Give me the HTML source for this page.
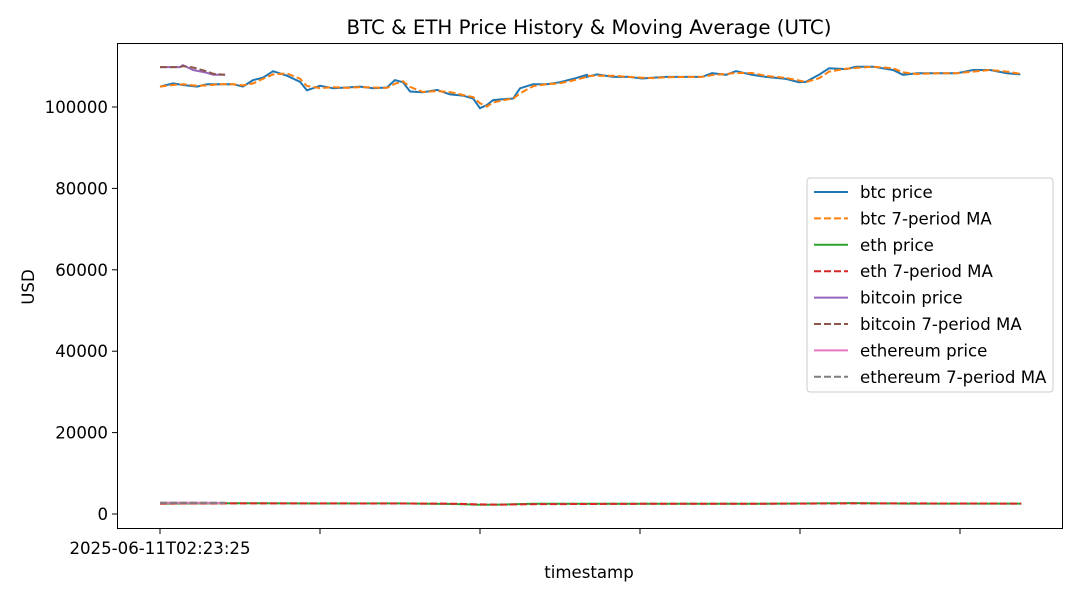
<!DOCTYPE html>
<html><head><meta charset="utf-8"><style>
body{margin:0;background:#fff;}
svg text{font-family:"DejaVu Sans","Liberation Sans",sans-serif;fill:#000;}
</style></head><body>
<svg id="chart" width="1080" height="600" xmlns="http://www.w3.org/2000/svg">
<rect width="1080" height="600" fill="#fff"/>
<text x="589" y="34" font-size="19.8" text-anchor="middle">BTC &amp; ETH Price History &amp; Moving Average (UTC)</text>
<g id="plot"></g>
<rect x="117.5" y="43.5" width="945" height="485" fill="none" stroke="#000" stroke-width="1"/>
<g id="axes"></g>
<text x="589" y="578" font-size="16.6" text-anchor="middle">timestamp</text>
<text x="34" y="287" font-size="16.6" text-anchor="middle" transform="rotate(-90 34 287)">USD</text>
<g id="legend"></g>
</svg>
<script>
// time in hours from start
const btcT=[0,0.49,0.86,1.39,1.76,2.25,2.74,3.11,3.49,3.86,4.24,4.76,5.25,5.51,6,6.49,7.01,7.5,7.99,8.51,8.81,9.11,9.38,9.86,10.39,10.88,11.36,11.74,12,12.26,12.49,13.01,13.24,13.5,13.99,14.51,15,15.49,16.01,
16.01,16.39,16.99,17.59,18.08,18.45,18.98,19.73,20.33,20.7,21.23,21.6,22.2,22.73,23.48,23.96,24.23,24.71,25.09,25.73,26.1,26.74,27.49,27.86,28.39,29.14,29.89,30.49,31.13,31.76,32.26,32.89];
const btcV=[105.0,105.8,105.4,105.0,105.6,105.6,105.6,105.0,106.6,107.2,108.8,107.7,106.2,104.1,105.2,104.6,104.8,105.0,104.6,104.8,106.6,106.1,103.8,103.6,104.2,103.1,102.8,102.1,99.7,100.5,101.7,102.0,102.1,104.6,105.6,105.6,106.1,106.9,107.9,
107.4,108.0,107.4,107.4,107.0,107.2,107.4,107.4,107.4,108.3,107.9,108.8,107.9,107.4,106.9,106.1,106.2,107.9,109.5,109.3,109.9,109.9,109.1,107.9,108.3,108.3,108.3,109.1,109.1,108.3,108.0].map(v=>v*1000);
const ethT=[0,3,6,9,11,12,12.7,14,18,22,26,28,32.3];
const ethV=[2560,2650,2580,2600,2450,2250,2300,2500,2520,2510,2680,2550,2560];
const bitcoinT=[0,0.75,0.86,1.24,1.76,1.99,2.44];
const bitcoinV=[109800,109800,110300,109100,108400,107900,107900];
const ethereumT=[0,0.8,1.6,2.44];
const ethereumV=[2750,2800,2760,2720];
const yTicks=[0,20000,40000,60000,80000,100000];
const xTicks=[0,6,12,18,24,30];
const xTickLabels=["2025-06-11T02:23:25","","","","",""];

const X=t=>160+t*(160/6);
const Y=v=>514-v*407/100000;
const NS="http://www.w3.org/2000/svg";
function ma(arr,w){return arr.map((_,i)=>{const s=arr.slice(Math.max(0,i-w+1),i+1);return s.reduce((a,b)=>a+b,0)/s.length;});}
function line(g,T,V,color,dash,name){
  const p=document.createElementNS(NS,"path");
  
  
  p.setAttribute("d",T.map((t,i)=>(i?"L":"M")+X(t).toFixed(1)+" "+Y(V[i]).toFixed(1)).join(""));
  p.setAttribute("fill","none");p.setAttribute("stroke",color);p.setAttribute("stroke-width","2");
  if(dash)p.setAttribute("stroke-dasharray","7,3");
  g.appendChild(p);
}
const plot=document.getElementById("plot");
line(plot,btcT,btcV,"#1f77b4",false,"btc-price-line");
line(plot,btcT,ma(btcV,2),"#ff7f0e",true,"btc-ma-line");
line(plot,ethT,ethV,"#2ca02c",false,"eth-price-line");
line(plot,ethT,ma(ethV,2),"#d62728",true,"eth-ma-line");
line(plot,bitcoinT,bitcoinV,"#9467bd",false,"bitcoin-price-line");
line(plot,bitcoinT,ma(bitcoinV,2),"#8c564b",true,"bitcoin-ma-line");
line(plot,ethereumT,ethereumV,"#e377c2",false,"ethereum-price-line");
line(plot,ethereumT,ma(ethereumV,2),"#7f7f7f",true,"ethereum-ma-line");

const axes=document.getElementById("axes");
yTicks.forEach(v=>{
  const l=document.createElementNS(NS,"line");
  
  
  l.setAttribute("x1",112);l.setAttribute("x2",117);l.setAttribute("y1",Y(v));l.setAttribute("y2",Y(v));l.setAttribute("stroke","#000");
  axes.appendChild(l);
  const t=document.createElementNS(NS,"text");
  
  
  t.setAttribute("x",108);t.setAttribute("y",Y(v)+6);t.setAttribute("font-size","16.6");t.setAttribute("text-anchor","end");
  t.textContent=v;axes.appendChild(t);
});
xTicks.forEach((v,i)=>{
  const l=document.createElementNS(NS,"line");
  
  
  l.setAttribute("x1",X(v));l.setAttribute("x2",X(v));l.setAttribute("y1",529);l.setAttribute("y2",534);l.setAttribute("stroke","#000");
  axes.appendChild(l);
  if(xTickLabels[i]){
    const t=document.createElementNS(NS,"text");
    
    
    t.setAttribute("x",X(v));t.setAttribute("y",554);t.setAttribute("font-size","16.6");t.setAttribute("text-anchor","middle");
    t.textContent=xTickLabels[i];axes.appendChild(t);
  }
});
const leg=document.getElementById("legend");
const box=document.createElementNS(NS,"rect");


box.setAttribute("x",807);box.setAttribute("y",178);box.setAttribute("width",246);box.setAttribute("height",214);box.setAttribute("rx",3);
box.setAttribute("fill","#fff");box.setAttribute("fill-opacity","0.8");box.setAttribute("stroke","#ccc");
leg.appendChild(box);
const labels=["btc price","btc 7-period MA","eth price","eth 7-period MA","bitcoin price","bitcoin 7-period MA","ethereum price","ethereum 7-period MA"];
const colors=["#1f77b4","#ff7f0e","#2ca02c","#d62728","#9467bd","#8c564b","#e377c2","#7f7f7f"];
labels.forEach((s,i)=>{
  const y=192+i*26.4;
  const l=document.createElementNS(NS,"line");
  
  
  l.setAttribute("x1",814);l.setAttribute("x2",848);l.setAttribute("y1",y);l.setAttribute("y2",y);
  l.setAttribute("stroke",colors[i]);l.setAttribute("stroke-width","2");
  if(i%2)l.setAttribute("stroke-dasharray","7,3");
  leg.appendChild(l);
  const t=document.createElementNS(NS,"text");
  
  
  t.setAttribute("x",860);t.setAttribute("y",y+6);t.setAttribute("font-size","16.6");
  t.textContent=s;leg.appendChild(t);
});
</script>
</body></html>
